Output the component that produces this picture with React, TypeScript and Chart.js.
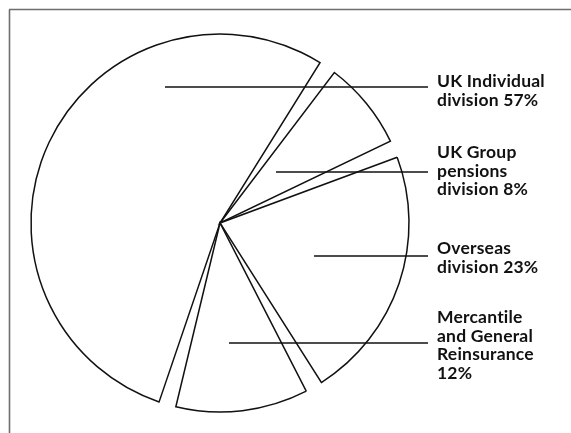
import React, { useEffect, useRef } from "react";
import { Chart, registerables } from "chart.js";

Chart.register(...registerables);

// ---- data ----
const categories = [
  "UK Individual division",
  "UK Group pensions division",
  "Overseas division",
  "Mercantile and General Reinsurance",
];
const shares = [57, 8, 23, 12];
const labelTemplates = [
  ["UK Individual", "division {v}%"],
  ["UK Group", "pensions", "division {v}%"],
  ["Overseas", "division {v}%"],
  ["Mercantile", "and General", "Reinsurance", "{v}%"],
];

// ---- style / layout ----
const GAP = 1.56; // angular gap between slices, in share units
const ROTATION = 198.8;
const RADIUS = 189;
const LABEL_X = 437;
const LINE_H = 18.5;
const LEADER_END_X = 428;
const LABEL_LAYOUT = [
  { baseline: 87, leaderY: 87, leaderStartX: 165 },
  { baseline: 158, leaderY: 172, leaderStartX: 276 },
  { baseline: 254, leaderY: 256, leaderStartX: 314 },
  { baseline: 323, leaderY: 343, leaderStartX: 229 },
];
const FONT = "bold 17.5px Lato";
const INK = "#111";

export default function App() {
  const ref = useRef<HTMLCanvasElement | null>(null);

  useEffect(() => {
    const canvas = ref.current;
    if (!canvas) return;

    const data: number[] = [];
    const bg: string[] = [];
    const bw: number[] = [];
    const labels: string[] = [];
    shares.forEach((v, i) => {
      data.push(v, GAP);
      bg.push("#ffffff", "rgba(0,0,0,0)");
      bw.push(1.5, 0);
      labels.push(categories[i], "");
    });

    const annotate = {
      id: "annotate",
      beforeDraw(chart: any) {
        const ctx = chart.ctx;
        ctx.save();
        ctx.fillStyle = "#fff";
        ctx.fillRect(0, 0, chart.width, chart.height);
        ctx.strokeStyle = "#6e6e6e";
        ctx.lineWidth = 1.6;
        ctx.beginPath();
        ctx.moveTo(9, 9.5);
        ctx.lineTo(chart.width, 9.5);
        ctx.moveTo(9.5, 9.5);
        ctx.lineTo(9.5, chart.height);
        ctx.stroke();
        ctx.restore();
      },
      afterDatasetsDraw(chart: any) {
        const ctx = chart.ctx;
        ctx.save();
        ctx.strokeStyle = INK;
        ctx.fillStyle = INK;
        ctx.lineWidth = 1.7;
        ctx.font = FONT;
        try {
          ctx.letterSpacing = "0.2px";
        } catch (e) {}
        ctx.textBaseline = "alphabetic";
        ctx.textAlign = "left";
        LABEL_LAYOUT.forEach((lay, i) => {
          ctx.beginPath();
          ctx.moveTo(lay.leaderStartX, lay.leaderY);
          ctx.lineTo(LEADER_END_X, lay.leaderY);
          ctx.stroke();
          labelTemplates[i].forEach((t, j) => {
            ctx.fillText(t.replace("{v}", String(shares[i])), LABEL_X, lay.baseline + j * LINE_H);
          });
        });
        ctx.restore();
      },
    };

    const chart = new Chart(canvas, {
      type: "pie",
      data: {
        labels,
        datasets: [
          {
            data,
            backgroundColor: bg,
            borderColor: INK,
            borderWidth: bw,
            borderJoinStyle: "miter",
          } as any,
        ],
      },
      options: {
        responsive: false,
        animation: false,
        events: [],
        rotation: ROTATION,
        radius: RADIUS,
        layout: { padding: { left: 20, right: 151, top: 20, bottom: 7 } },
        plugins: {
          legend: { display: false },
          tooltip: { enabled: false },
        },
      } as any,
      plugins: [annotate],
    });

    return () => chart.destroy();
  }, []);

  return (
    <div style={{ position: "absolute", left: 0, top: 0, width: 571, height: 433, background: "#fff" }}>
      <canvas ref={ref} width={571} height={433} style={{ display: "block", width: 571, height: 433 }} />
    </div>
  );
}
